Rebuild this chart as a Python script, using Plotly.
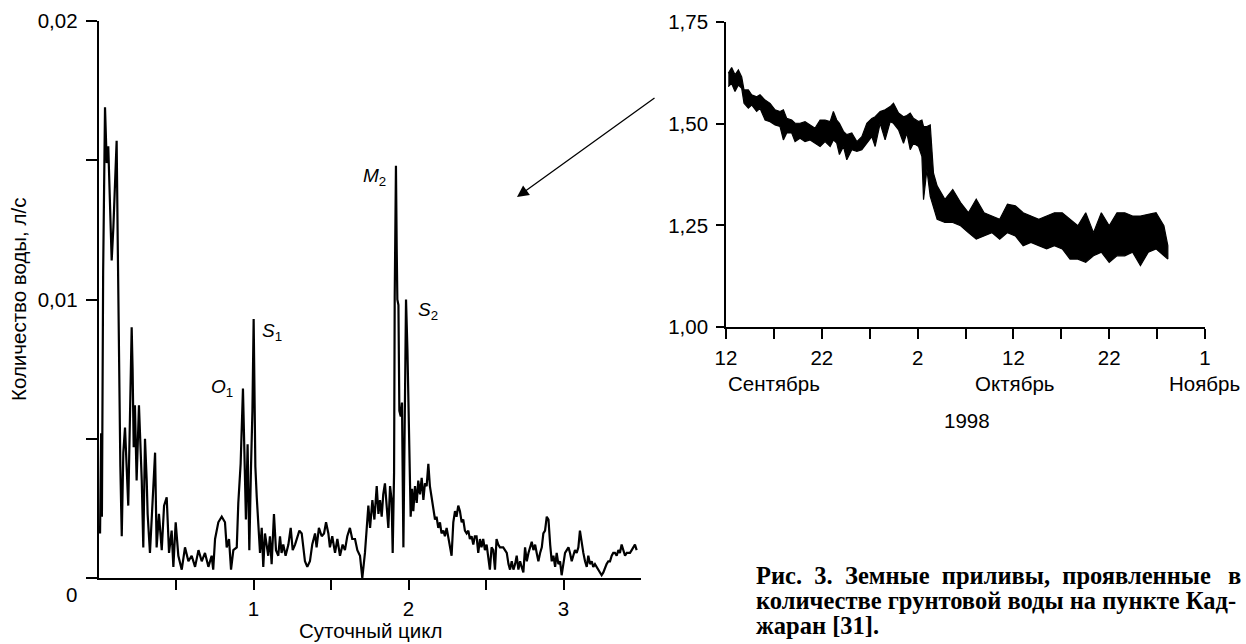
import plotly.graph_objects as go
import pandas as pd

# ---------------- data: left spectrum ----------------
freq = [0.010, 0.017, 0.022, 0.030, 0.042, 0.053, 0.063, 0.074, 0.085, 0.096, 0.106, 0.117, 0.124, 0.132, 0.141,
        0.150, 0.160, 0.171, 0.181, 0.192, 0.203, 0.214, 0.220, 0.227, 0.235, 0.246, 0.261, 0.269, 0.279, 0.289,
        0.300, 0.311, 0.317, 0.332, 0.348, 0.365, 0.375, 0.390, 0.408, 0.423, 0.440, 0.455, 0.472, 0.483, 0.498,
        0.515, 0.537, 0.558, 0.580, 0.601, 0.623, 0.645, 0.666, 0.687, 0.709, 0.730, 0.740, 0.752, 0.773, 0.795,
        0.816, 0.827, 0.842, 0.855, 0.870, 0.892, 0.902, 0.917, 0.932, 0.941, 0.951, 0.962, 0.973, 0.984, 0.993,
        1.001, 1.006, 1.012, 1.021, 1.032, 1.042, 1.053, 1.063, 1.074, 1.085, 1.095, 1.106, 1.117, 1.132, 1.145,
        1.160, 1.171, 1.181, 1.192, 1.207, 1.225, 1.240, 1.253, 1.268, 1.278, 1.296, 1.311, 1.321, 1.332, 1.347,
        1.364, 1.379, 1.397, 1.407, 1.422, 1.440, 1.455, 1.468, 1.483, 1.493, 1.508, 1.526, 1.541, 1.558, 1.575,
        1.590, 1.605, 1.622, 1.637, 1.655, 1.670, 1.687, 1.702, 1.719, 1.730, 1.741, 1.752, 1.767, 1.780, 1.795,
        1.806, 1.816, 1.827, 1.837, 1.848, 1.859, 1.870, 1.881, 1.891, 1.898, 1.907, 1.911, 1.915, 1.919, 1.924,
        1.928, 1.935, 1.941, 1.950, 1.958, 1.967, 1.976, 1.984, 1.993, 1.999, 2.006, 2.014, 2.023, 2.031, 2.042,
        2.053, 2.063, 2.074, 2.085, 2.096, 2.106, 2.117, 2.128, 2.138, 2.149, 2.160, 2.171, 2.181, 2.192, 2.203,
        2.213, 2.225, 2.235, 2.246, 2.257, 2.267, 2.278, 2.289, 2.300, 2.310, 2.321, 2.332, 2.343, 2.353, 2.364,
        2.375, 2.386, 2.396, 2.407, 2.418, 2.428, 2.439, 2.450, 2.461, 2.471, 2.482, 2.493, 2.504, 2.515, 2.525,
        2.536, 2.547, 2.558, 2.568, 2.579, 2.590, 2.611, 2.634, 2.645, 2.655, 2.666, 2.677, 2.688, 2.698, 2.709,
        2.720, 2.730, 2.741, 2.752, 2.763, 2.774, 2.784, 2.795, 2.806, 2.817, 2.827, 2.838, 2.849, 2.860, 2.870,
        2.881, 2.892, 2.903, 2.914, 2.924, 2.935, 2.946, 2.956, 2.967, 2.978, 2.988, 2.999, 3.010, 3.021, 3.032,
        3.042, 3.053, 3.063, 3.074, 3.085, 3.096, 3.106, 3.117, 3.128, 3.139, 3.150, 3.160, 3.171, 3.182, 3.192,
        3.203, 3.214, 3.225, 3.235, 3.246, 3.257, 3.268, 3.278, 3.289, 3.300, 3.311, 3.321, 3.332, 3.343, 3.354,
        3.364, 3.375, 3.386, 3.397, 3.408, 3.418, 3.429, 3.440, 3.451, 3.461, 3.472]
amp = [0.0016, 0.0052, 0.0022, 0.0110, 0.0169, 0.0149, 0.0155, 0.0130, 0.0114, 0.0126, 0.0138, 0.0157, 0.0121, 0.0080, 0.0040,
       0.0015, 0.0045, 0.0054, 0.0040, 0.0026, 0.0058, 0.0090, 0.0075, 0.0047, 0.0062, 0.0035, 0.0062, 0.0052, 0.0035, 0.0011,
       0.0050, 0.0035, 0.0023, 0.0009, 0.0029, 0.0045, 0.0011, 0.0023, 0.0010, 0.0026, 0.0029, 0.0009, 0.0017, 0.0004, 0.0020,
       0.0008, 0.0003, 0.0011, 0.0006, 0.0008, 0.0004, 0.0010, 0.0006, 0.0009, 0.0004, 0.0008, 0.0003, 0.0014, 0.0020, 0.0022,
       0.0020, 0.0011, 0.0014, 0.0003, 0.0010, 0.0011, 0.0027, 0.0041, 0.0068, 0.0047, 0.0021, 0.0048, 0.0010, 0.0040, 0.0060,
       0.0093, 0.0060, 0.0040, 0.0029, 0.0018, 0.0009, 0.0018, 0.0004, 0.0016, 0.0011, 0.0008, 0.0015, 0.0005, 0.0023, 0.0010,
       0.0008, 0.0015, 0.0009, 0.0012, 0.0008, 0.0012, 0.0018, 0.0010, 0.0012, 0.0014, 0.0017, 0.0016, 0.0011, 0.0006, 0.0004,
       0.0006, 0.0012, 0.0016, 0.0011, 0.0018, 0.0015, 0.0016, 0.0020, 0.0016, 0.0011, 0.0015, 0.0009, 0.0014, 0.0008, 0.0012,
       0.0010, 0.0015, 0.0018, 0.0014, 0.0014, 0.0010, 0.0008, 0.0000, 0.0009, 0.0016, 0.0026, 0.0018, 0.0028, 0.0021, 0.0033,
       0.0023, 0.0028, 0.0022, 0.0030, 0.0034, 0.0026, 0.0018, 0.0033, 0.0028, 0.0009, 0.0038, 0.0101, 0.0118, 0.0148, 0.0118,
       0.0100, 0.0098, 0.0060, 0.0058, 0.0063, 0.0011, 0.0070, 0.0100, 0.0082, 0.0068, 0.0046, 0.0022, 0.0032, 0.0024, 0.0033,
       0.0027, 0.0035, 0.0030, 0.0036, 0.0028, 0.0034, 0.0033, 0.0041, 0.0033, 0.0029, 0.0024, 0.0021, 0.0022, 0.0018, 0.0020,
       0.0016, 0.0017, 0.0015, 0.0018, 0.0015, 0.0012, 0.0008, 0.0020, 0.0024, 0.0022, 0.0026, 0.0024, 0.0020, 0.0021, 0.0017,
       0.0016, 0.0017, 0.0014, 0.0015, 0.0012, 0.0015, 0.0015, 0.0009, 0.0014, 0.0011, 0.0014, 0.0010, 0.0012, 0.0006, 0.0003,
       0.0011, 0.0010, 0.0003, 0.0014, 0.0012, 0.0011, 0.0011, 0.0009, 0.0005, 0.0003, 0.0006, 0.0003, 0.0005, 0.0008, 0.0003,
       0.0006, 0.0004, 0.0002, 0.0011, 0.0006, 0.0009, 0.0011, 0.0013, 0.0010, 0.0012, 0.0009, 0.0006, 0.0009, 0.0011, 0.0016,
       0.0017, 0.0022, 0.0021, 0.0012, 0.0006, 0.0008, 0.0004, 0.0009, 0.0005, 0.0006, 0.0001, 0.0005, 0.0009, 0.0010, 0.0011,
       0.0009, 0.0006, 0.0008, 0.0010, 0.0009, 0.0011, 0.0017, 0.0012, 0.0009, 0.0006, 0.0004, 0.0008, 0.0005, 0.0006, 0.0004,
       0.0005, 0.0004, 0.0003, 0.0002, 0.0001, 0.0002, 0.0004, 0.0005, 0.0006, 0.0006, 0.0008, 0.0009, 0.0009, 0.0008, 0.0010,
       0.0009, 0.0012, 0.0010, 0.0008, 0.0009, 0.0009, 0.0009, 0.0010, 0.0011, 0.0012, 0.0010]

peak_names = ["<i>O</i><sub>1</sub>", "<i>S</i><sub>1</sub>", "<i>M</i><sub>2</sub>", "<i>S</i><sub>2</sub>"]

# ---------------- data: right time series (days after 12 Sep 1998, upper/lower envelope) ----------------
start_date = "1998-09-12"
days = [0.24, 0.59, 0.94, 1.29, 1.64, 1.88, 2.33, 2.68, 3.20, 3.55, 4.08, 4.60, 5.12, 5.64, 5.99, 6.34, 6.86,
        7.21, 7.73, 8.25, 8.78, 9.30, 9.82, 10.34, 10.87, 11.21, 11.56, 11.84, 12.26, 12.61, 13.13, 13.66, 14.18,
        14.70, 15.22, 15.57, 16.09, 16.61, 17.14, 17.48, 18.01, 18.53, 18.88, 19.23, 19.57, 20.10, 20.45, 20.62,
        20.97, 21.32, 21.66, 22.04, 22.85, 23.67, 24.49, 25.30, 26.12, 26.94, 27.75, 28.57, 29.38, 30.20, 31.02,
        31.83, 32.65, 33.47, 34.28, 35.10, 35.91, 36.73, 37.55, 38.36, 39.18, 40.00, 40.81, 41.63, 42.44, 43.26,
        44.08, 44.89, 45.71, 46.12]
flow_hi = [1.624, 1.638, 1.620, 1.632, 1.615, 1.583, 1.583, 1.571, 1.566, 1.571, 1.558, 1.550, 1.534, 1.530, 1.534,
           1.513, 1.509, 1.501, 1.501, 1.505, 1.497, 1.489, 1.509, 1.509, 1.505, 1.530, 1.509, 1.501, 1.481, 1.473,
           1.477, 1.456, 1.468, 1.501, 1.513, 1.517, 1.530, 1.534, 1.542, 1.550, 1.526, 1.517, 1.520, 1.526, 1.513,
           1.505, 1.509, 1.493, 1.493, 1.497, 1.378, 1.347, 1.314, 1.338, 1.306, 1.281, 1.314, 1.281, 1.273, 1.265,
           1.302, 1.298, 1.281, 1.273, 1.265, 1.273, 1.281, 1.281, 1.265, 1.249, 1.281, 1.232, 1.281, 1.249, 1.281,
           1.281, 1.273, 1.273, 1.277, 1.281, 1.249, 1.200]
flow_lo = [1.591, 1.599, 1.579, 1.595, 1.587, 1.550, 1.538, 1.546, 1.530, 1.538, 1.509, 1.505, 1.497, 1.493, 1.460,
           1.477, 1.477, 1.456, 1.464, 1.456, 1.460, 1.452, 1.444, 1.456, 1.444, 1.460, 1.452, 1.424, 1.444, 1.411,
           1.436, 1.432, 1.436, 1.452, 1.468, 1.444, 1.501, 1.460, 1.505, 1.501, 1.485, 1.452, 1.477, 1.436, 1.452,
           1.444, 1.419, 1.313, 1.387, 1.321, 1.297, 1.265, 1.257, 1.257, 1.249, 1.232, 1.216, 1.224, 1.232, 1.216,
           1.232, 1.224, 1.200, 1.208, 1.200, 1.192, 1.200, 1.192, 1.167, 1.167, 1.159, 1.175, 1.184, 1.159, 1.175,
           1.175, 1.184, 1.151, 1.184, 1.192, 1.175, 1.167]

x_ticks_dates = ["1998-09-12", "1998-09-17", "1998-09-22", "1998-09-27", "1998-10-02", "1998-10-07",
                 "1998-10-12", "1998-10-17", "1998-10-22", "1998-10-27", "1998-11-01"]
x_ticks_text = ["12", "", "22", "", "2", "", "12", "", "22", "", "1"]
y2_ticks = [1.00, 1.25, 1.50, 1.75]
y2_text = ["1,00", "1,25", "1,50", "1,75"]
months = ["Сентябрь", "Октябрь", "Ноябрь"]

caption_line1_words = ["Рис.", "3.", "Земные", "приливы,", "проявленные", "в"]
caption_line2 = "количестве грунтовой воды на пункте Кад-"
caption_line3 = "жаран [31]."

# ---------------- figure ----------------
W, H = 1246, 644
def px(x):
    return x / W
def py(y):
    return 1 - y / H

SANS = "Liberation Sans, Arial, sans-serif"
SERIF = "Liberation Serif, Times New Roman, serif"
FS = 20.5

t0 = pd.Timestamp(start_date)
dates = [t0 + pd.Timedelta(days=d) for d in days]
poly_x = dates + dates[::-1]
poly_y = flow_hi + flow_lo[::-1]

fig = go.Figure()
fig.add_trace(go.Scatter(x=freq, y=amp, mode="lines", line=dict(color="black", width=2.2),
                         xaxis="x", yaxis="y", hoverinfo="skip", showlegend=False))
fig.add_trace(go.Scatter(x=poly_x, y=poly_y, mode="lines", fill="toself", fillcolor="black",
                         line=dict(color="black", width=1.2), xaxis="x2", yaxis="y2",
                         hoverinfo="skip", showlegend=False))

axis_common = dict(showline=True, linecolor="black", linewidth=1.6, ticks="outside", tickcolor="black",
                   tickwidth=1.6, showgrid=False, zeroline=False, automargin=False,
                   tickfont=dict(family=SANS, size=FS, color="black"))

fig.update_layout(
    width=W, height=H, margin=dict(l=0, r=0, t=0, b=0, autoexpand=False),
    paper_bgcolor="white", plot_bgcolor="white",
    xaxis=dict(domain=[px(98.5), px(641)], range=[0, 3.5], anchor="y",
               tickvals=[0.5, 1, 1.5, 2, 2.5, 3], ticktext=["", "1", "", "2", "", "3"],
               ticklen=10, ticklabelstandoff=2, **axis_common),
    yaxis=dict(domain=[py(578), py(21)], range=[0, 0.02], anchor="x",
               tickvals=[0, 0.005, 0.01, 0.015, 0.02], ticktext=["", "", "0,01", "", "0,02"],
               ticklen=11, ticklabelstandoff=4, **axis_common),
    xaxis2=dict(domain=[px(726), px(1205)], range=["1998-09-12", "1998-11-01"], anchor="y2", type="date",
                tickvals=x_ticks_dates, ticktext=x_ticks_text, ticklen=10, ticklabelstandoff=2, **axis_common),
    yaxis2=dict(domain=[py(327), py(22)], range=[1.0, 1.75], anchor="x2",
                tickvals=y2_ticks, ticktext=y2_text, ticklen=8, ticklabelstandoff=4, **axis_common),
)

ann = []
def label(x, y, text, size=FS, xanchor="center", family=SANS, angle=0):
    ann.append(dict(xref="paper", yref="paper", x=px(x), y=py(y), text=text, showarrow=False,
                    xanchor=xanchor, yanchor="middle", textangle=angle, borderpad=0,
                    font=dict(family=family, size=size, color="black")))

label(71, 594, "0")
label(370, 630, "Суточный цикл")
label(18, 300, "Количество воды, л/с", angle=-90)
label(222, 388, peak_names[0], size=19)
label(272, 332, peak_names[1], size=19)
label(374, 177, peak_names[2], size=19)
label(428, 311, peak_names[3], size=19)

label(727, 383, months[0], xanchor="left")
label(1014, 383, months[1])
label(1204, 383, months[2])
label(967, 420, "1998")

CAP = 24.5
gap = " \u00a0"
label(755, 575, "<b>" + gap.join(caption_line1_words[:-1]) + "</b>", size=CAP, xanchor="left", family=SERIF)
label(1242, 575, "<b>" + caption_line1_words[-1] + "</b>", size=CAP, xanchor="right", family=SERIF)
label(755, 600, "<b>" + caption_line2 + "</b>", size=CAP, xanchor="left", family=SERIF)
label(755, 625, "<b>" + caption_line3 + "</b>", size=CAP, xanchor="left", family=SERIF)

# arrow
ann.append(dict(xref="paper", yref="paper", x=px(517), y=py(197), ax=139, ay=-100, axref="pixel", ayref="pixel",
                text="", showarrow=True, arrowhead=2, arrowsize=1.8, arrowwidth=1.3, arrowcolor="black"))

fig.update_layout(annotations=ann)
fig.write_html("out.html")
